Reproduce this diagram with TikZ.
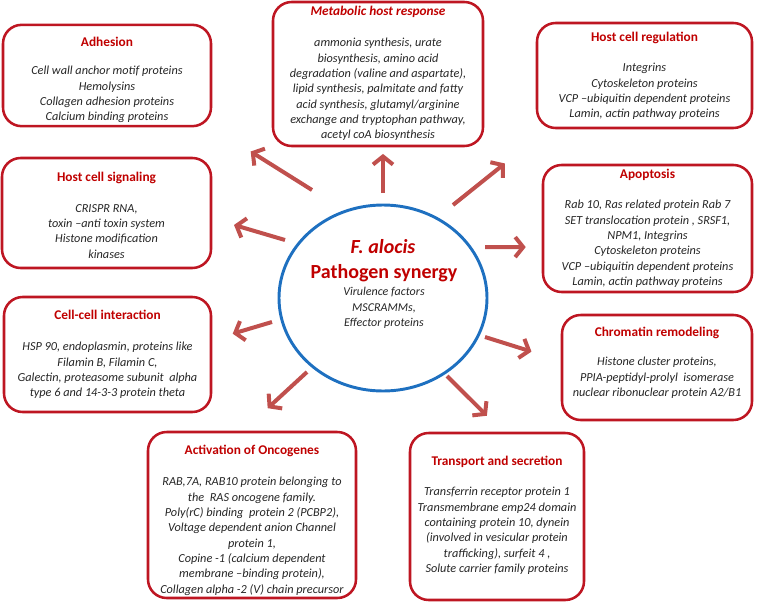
\documentclass[tikz,border=0pt]{standalone}
\usepackage{fontspec}
\setmainfont{Carlito}
\usepackage{tikz}
\usetikzlibrary{shapes.geometric, arrows.meta, positioning}
\definecolor{boxred}{RGB}{190,22,34}
\definecolor{titlered}{RGB}{192,0,0}
\definecolor{arrred}{RGB}{192,80,77}
\definecolor{ellblue}{RGB}{30,112,192}

\begin{document}
\begin{tikzpicture}[x=0.75pt, y=-0.75pt,
	box/.style={draw=boxred, line width=1.9pt, rounded corners=14pt, fill=white, inner sep=0pt},
	ttl/.style={text=titlered, font=\fontsize{10}{12}\selectfont\bfseries, inner sep=0pt, text height=7pt, text depth=2pt},
	bdy/.style={anchor=north, align=center, text=black!85, font=\fontsize{9.2}{11.5}\selectfont\itshape, inner sep=0pt},
	arr/.style={draw=arrred, line width=3pt, -{Straight Barb[length=6pt, width=15pt]}}]
	\useasboundingbox (0,0) rectangle (760,607);
	
	% 中心椭圆
	\node[draw=ellblue, line width=2.2pt, ellipse, minimum width=156pt, minimum height=139.5pt, inner sep=0pt] (c) at (383,298) {};
	\node[text=titlered, font=\fontsize{15}{18}\selectfont\bfseries\itshape] (fa) at (383,247) {F. alocis};
	\node[text=titlered, font=\fontsize{15}{18}\selectfont\bfseries] (ps) at (384,273) {Pathogen synergy};
	\node[bdy, font=\fontsize{9}{11.6}\selectfont\itshape] (vf) at (384,287) {Virulence factors\\MSCRAMMs,\\Effector proteins};
	
	% 外围方框
	\node[box, minimum width=156pt, minimum height=76pt] (adh) at (107,75.5) {};
	\node[ttl] (adh-t) at (107,43) {Adhesion};
	\node[bdy] (adh-b) at (107,66) {Cell wall anchor motif proteins\\Hemolysins\\Collagen adhesion proteins\\Calcium binding proteins};
	
	\node[box, minimum width=157.5pt, minimum height=108pt] (met) at (378,74) {};
	\node[ttl, font=\fontsize{10}{12}\selectfont\bfseries\itshape] (met-t) at (378,12) {Metabolic host response};
	\node[bdy] (met-b) at (378,38) {ammonia synthesis, urate\\biosynthesis, amino acid\\degradation (valine and aspartate),\\lipid synthesis, palmitate and fatty\\acid synthesis, glutamyl/arginine\\exchange and tryptophan pathway,\\acetyl coA biosynthesis};
	
	\node[box, minimum width=161.25pt, minimum height=78.75pt] (hcr) at (644.5,75.5) {};
	\node[ttl] (hcr-t) at (644.5,38) {Host cell regulation};
	\node[bdy] (hcr-b) at (644.5,63) {Integrins\\Cytoskeleton proteins\\VCP –ubiquitin dependent proteins\\Lamin, actin pathway proteins};
	
	\node[box, minimum width=156.75pt, minimum height=82.5pt] (sig) at (106.5,213) {};
	\node[ttl] (sig-t) at (106.5,178) {Host cell signaling};
	\node[bdy] (sig-b) at (106.5,204) {CRISPR RNA,\\toxin –anti toxin system\\Histone modification\\kinases};
	
	\node[box, minimum width=156.75pt, minimum height=95.25pt] (apo) at (647.5,228.5) {};
	\node[ttl] (apo-t) at (647.5,175) {Apoptosis};
	\node[bdy] (apo-b) at (647.5,200) {Rab 10, Ras related protein Rab 7\\SET translocation protein , SRSF1,\\NPM1, Integrins\\Cytoskeleton proteins\\VCP –ubiquitin dependent proteins\\Lamin, actin pathway proteins};
	
	\node[box, minimum width=155.25pt, minimum height=86.25pt] (cci) at (107.5,354.5) {};
	\node[ttl] (cci-t) at (107.5,316) {Cell-cell interaction};
	\node[bdy] (cci-b) at (107.5,342) {HSP 90, endoplasmin, proteins like\\Filamin B, Filamin C,\\Galectin, proteasome subunit\ \ alpha\\type 6 and 14-3-3 protein theta};
	
	\node[box, minimum width=142.5pt, minimum height=78.75pt] (chr) at (657,367.5) {};
	\node[ttl] (chr-t) at (657,333) {Chromatin remodeling};
	\node[bdy] (chr-b) at (657,357) {Histone cluster proteins,\\PPIA-peptidyl-prolyl\ \ isomerase\\nuclear ribonuclear protein A2/B1};
	
	\node[box, minimum width=156pt, minimum height=124.5pt] (onc) at (252,515) {};
	\node[ttl] (onc-t) at (252,451) {Activation of Oncogenes};
	\node[bdy] (onc-b) at (252,477) {RAB,7A, RAB10 protein belonging to\\the\ \ RAS oncogene family.\\Poly(rC) binding\ \ protein 2 (PCBP2),\\Voltage dependent anion Channel\\protein 1,\\Copine -1 (calcium dependent\\membrane –binding protein),\\Collagen alpha -2 (V) chain precursor};
	
	\node[box, minimum width=130.5pt, minimum height=125.25pt] (trs) at (497,516.5) {};
	\node[ttl] (trs-t) at (497,462) {Transport and secretion};
	\node[bdy] (trs-b) at (497,487) {Transferrin receptor protein 1\\Transmembrane emp24 domain\\containing protein 10, dynein\\(involved in vesicular protein\\trafficking), surfeit 4 ,\\Solute carrier family proteins};
	
	% 箭头
	\coordinate (t1) at (312,190);
	\coordinate (t2) at (383,193);
	\coordinate (t3) at (453,205);
	\coordinate (t4) at (285,240);
	\coordinate (t5) at (485,247);
	\coordinate (t6) at (272,322);
	\coordinate (t7) at (485,337);
	\coordinate (t8) at (307,372);
	\coordinate (t9) at (447,376);
	\draw[arr, shorten >=34pt] (t1) -- (adh.south east);
	\draw[arr, shorten >=5pt] (t2) -- (t2 |- met.south);
	\draw[arr, shorten >=41pt] (t3) -- (hcr.209);
	\draw[arr, shorten >=17pt] (t4) -- (sig.-3);
	\draw[arr, shorten >=12pt] (t5) -- (apo.190);
	\draw[arr, shorten >=16pt] (t6) -- (cci.8);
	\draw[arr, shorten >=23pt] (t7) -- (chr.176);
	\draw[arr, shorten >=25pt] (t8) -- (onc.96);
	\draw[arr, shorten >=17pt] (t9) -- (trs.86);
\end{tikzpicture}
\end{document}
